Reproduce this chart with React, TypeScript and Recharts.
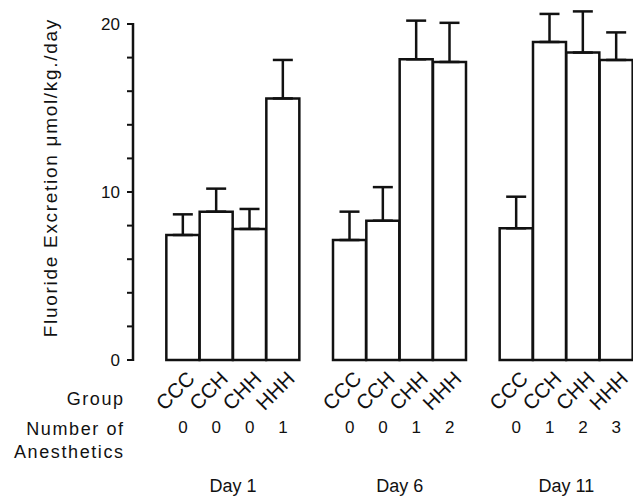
import { BarChart, Bar, ErrorBar, XAxis, YAxis } from "recharts";

const days = ["Day 1", "Day 6", "Day 11"];
const groups = ["CCC", "CCH", "CHH", "HHH"];
const means = [
  [7.44, 8.83, 7.8, 15.57],
  [7.14, 8.29, 17.9, 17.74],
  [7.84, 18.93, 18.3, 17.86],
];
const sems = [
  [1.23, 1.37, 1.19, 2.29],
  [1.69, 2.0, 2.3, 2.33],
  [1.88, 1.67, 2.45, 1.64],
];
const anesthetics = [
  [0, 0, 0, 1],
  [0, 0, 1, 2],
  [0, 1, 2, 3],
];
const yTicks = [0, 2, 4, 6, 8, 10, 12, 14, 16, 18, 20];
const yLabels = [0, 10, 20];
const Y_MAX = 21; // room above 20 for the error bars
const AXIS_TOP = 20;

const W = 633;
const H = 498;
const ML = 73;
const YW = 60;
const MT = 7.2;
const XH = 138;
const TICK = 6;
const TICK_GAP = 5;
const FONT = "'Liberation Sans', Arial, Helvetica, sans-serif";

// one empty slot in front of every day, then its four groups.
// the first empty slot carries the axis line (0..20) as its own series
type Row = {
  key: string;
  value: number | null;
  axis: number | null;
  err?: number[];
  group?: string;
  n?: number;
  day?: string;
  spacer?: boolean;
  first?: boolean;
};
const rows: Row[] = [];
days.forEach((d, di) => {
  rows.push({
    key: "gap" + di,
    value: null,
    axis: di === 0 ? AXIS_TOP : null,
    spacer: true,
    first: di === 0,
  });
  groups.forEach((g, gi) => {
    rows.push({
      key: d + g,
      value: means[di][gi],
      axis: null,
      err: [0, sems[di][gi]],
      group: g,
      n: anesthetics[di][gi],
      day: gi === 1 ? d : undefined,
    });
  });
});

const slot = (W - ML - YW) / rows.length;

function GroupTick(props: any) {
  const x = Number(props.x);
  const y = Number(props.y);
  const r = rows.find((e) => e.key === props.payload.value);
  if (!r) return null;
  if (r.spacer) {
    if (!r.first) return null;
    const rx = x - 25;
    return (
      <g fontFamily={FONT} fontSize={18} fill="#111" letterSpacing={1.6}>
        <text x={rx} y={y + 45} textAnchor="end">Group</text>
        <text x={rx} y={y + 75} textAnchor="end">Number of</text>
        <text x={rx} y={y + 98} textAnchor="end">Anesthetics</text>
      </g>
    );
  }
  const ax = x + 13;
  const ay = y + 20;
  return (
    <g fontFamily={FONT} fill="#111">
      <text x={ax} y={ay} fontSize={20.5} textAnchor="end" transform={`rotate(-45 ${ax} ${ay})`}>
        {r.group}
      </text>
      <text x={x} y={y + 73} fontSize={17} textAnchor="middle">{r.n}</text>
      {r.day && (
        <text x={x + slot / 2} y={y + 132} fontSize={18} textAnchor="middle">{r.day}</text>
      )}
    </g>
  );
}

function ValueTick(props: any) {
  const x = Number(props.x);
  const y = Number(props.y);
  const v = Number(props.payload.value);
  if (!yLabels.includes(v)) return null;
  return (
    <text x={x - 2} y={y + 6} fontFamily={FONT} fontSize={17} fill="#111" textAnchor="end">
      {v}
    </text>
  );
}

// only the left edge of the axis bar is drawn
function AxisEdge(props: any) {
  const x = Number(props.x);
  const y = Number(props.y);
  const h = Number(props.height);
  if (!isFinite(x) || !isFinite(y) || !isFinite(h) || h === 0) return <g />;
  return <line x1={x} x2={x} y1={y - 1} y2={y + h + 1} stroke="#111" strokeWidth={2.5} />;
}

function YTitle(p: any) {
  const vb = p.viewBox || {};
  const cx = Number(vb.x) - 22;
  const cy = Number(vb.y) + Number(vb.height) / 2 - 6;
  return (
    <text
      x={cx}
      y={cy}
      transform={`rotate(-90 ${cx} ${cy})`}
      textAnchor="middle"
      dominantBaseline="central"
      fontFamily={FONT}
      fontSize={19}
      fill="#111"
      letterSpacing={1.7}
    >
      Fluoride Excretion μmol/kg./day
    </text>
  );
}

export default function App() {
  return (
    <div style={{ width: W, height: H, background: "#fff" }}>
      <style>{`body{margin:0}`}</style>
      <BarChart
        width={W}
        height={H}
        data={rows}
        margin={{ top: MT, right: 0, left: ML, bottom: 0 }}
        barCategoryGap={0}
        barGap={0}
      >
        <XAxis
          dataKey="key"
          height={XH}
          axisLine={false}
          tickLine={false}
          tickSize={0}
          tickMargin={0}
          interval={0}
          tick={<GroupTick />}
        />
        <YAxis
          width={YW}
          domain={[0, Y_MAX]}
          ticks={yTicks}
          axisLine={false}
          tickLine={{ stroke: "#111", strokeWidth: 2 }}
          tickSize={TICK}
          tickMargin={TICK_GAP}
          tick={<ValueTick />}
          label={{ content: (p: any) => <YTitle {...p} /> }}
        />
        <Bar dataKey="value" stackId="s" fill="#fff" stroke="#111" strokeWidth={2.5} isAnimationActive={false}>
          <ErrorBar dataKey="err" direction="y" width={10} stroke="#111" strokeWidth={2.5} isAnimationActive={false} />
        </Bar>
        <Bar dataKey="axis" stackId="s" shape={<AxisEdge />} isAnimationActive={false} />
      </BarChart>
    </div>
  );
}
